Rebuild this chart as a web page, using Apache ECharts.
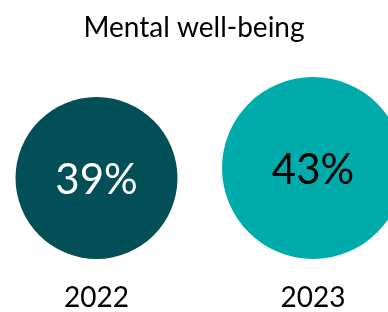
<!DOCTYPE html>
<html>
<head>
<meta charset="utf-8">
<script src="https://cdn.jsdelivr.net/npm/echarts@6/dist/echarts.min.js"></script>
<style>
    html, body { margin: 0; padding: 0; background: #ffffff; }
    #chart { width: 388px; height: 312px; }
</style>
</head>
<body>
<div id="chart"></div>
<script>
    // data
    const chartTitle = 'Mental well-being';
    const years = ['2022', '2023'];
    const shares = [39, 43];
    const circleColors = ['#034f58', '#00abab'];
    const labelColors = ['#ffffff', '#000000'];

    const fontFamily = 'Lato';

    let myChart = echarts.init(document.getElementById('chart'));

    // circle diameter grows with the share
    function circleSize(v) {
        return 5 * v - 33;
    }

    myChart.setOption({
        animation: false,
        title: {
            text: chartTitle,
            left: 'center',
            top: 9,
            textStyle: {
                fontFamily: fontFamily,
                fontSize: 28,
                fontWeight: 'normal',
                color: '#000000'
            }
        },
        grid: {
            left: 96.5,
            right: 75,
            top: 60,
            bottom: 51
        },
        xAxis: {
            type: 'category',
            data: years,
            boundaryGap: false,
            axisLine: { show: false },
            axisTick: { show: false },
            splitLine: { show: false },
            axisLabel: {
                margin: 25,
                fontFamily: fontFamily,
                fontSize: 28,
                color: '#000000'
            }
        },
        yAxis: {
            type: 'value',
            min: 0,
            max: 1,
            show: false
        },
        series: [
            {
                type: 'scatter',
                symbol: 'circle',
                symbolOffset: [0, '-50%'],
                symbolSize: function (val) {
                    return circleSize(val[2]);
                },
                data: years.map(function (y, i) {
                    return {
                        value: [y, 0, shares[i]],
                        itemStyle: { color: circleColors[i], opacity: 1 },
                        label: { color: labelColors[i] }
                    };
                }),
                label: {
                    show: true,
                    position: 'inside',
                    offset: [0, 2],
                    formatter: function (p) { return p.value[2] + '%'; },
                    fontFamily: fontFamily,
                    fontSize: 42
                },
                emphasis: { disabled: true }
            }
        ]
    });
</script>
</body>
</html>
